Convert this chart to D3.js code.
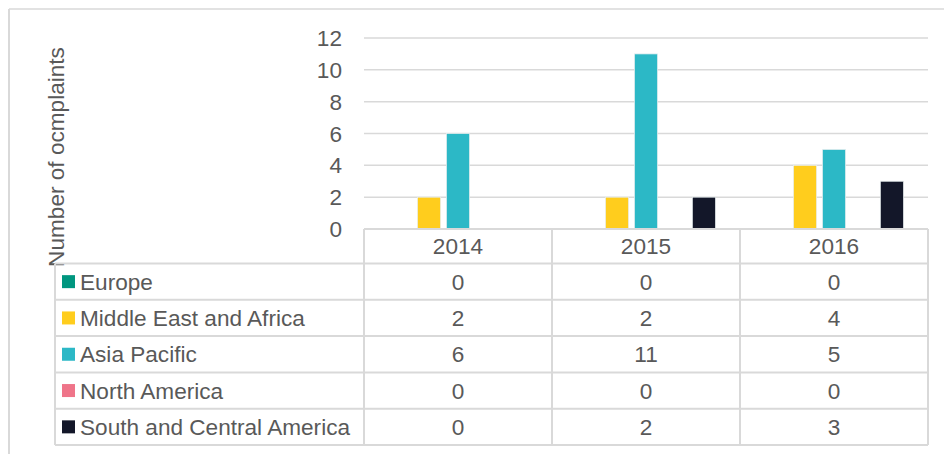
<!DOCTYPE html>
<html>
<head>
<meta charset="utf-8">
<script src="https://cdn.jsdelivr.net/npm/d3@7"></script>
<style>
  body { margin: 0; background: #fff; }
  svg { display: block; font-family: "Liberation Sans", Arial, sans-serif; }
</style>
</head>
<body>
<script>
// data
const years = ['2014', '2015', '2016'];
const regions = ['Europe', 'Middle East and Africa', 'Asia Pacific', 'North America', 'South and Central America'];
const colors = ['#00967f', '#ffcd1d', '#2cb8c6', '#ef7489', '#131729'];
const europe = [0, 0, 0];
const mea = [2, 2, 4];
const asiaPacific = [6, 11, 5];
const northAmerica = [0, 0, 0];
const southCentral = [0, 2, 3];
const yTicks = [0, 2, 4, 6, 8, 10, 12];

const series = [europe, mea, asiaPacific, northAmerica, southCentral];

let width = 944,
    height = 454,
    plotLeft = 364,
    plotRight = 928,
    plotTop = 38,
    plotBottom = 229,
    rowH = 36.3,
    headH = 34.5,
    tableLeft = 55,
    grid = '#d9d9d9',
    textCol = '#595959',
    fontSize = 22.6;

let svg = d3.select('body').append('svg').attr('width', width).attr('height', height);

// outer frame
svg.append('line').attr('x1', 9).attr('x2', 9).attr('y1', 9).attr('y2', height)
    .style('stroke', grid).style('stroke-width', '2px');
svg.append('line').attr('x1', 9).attr('x2', width).attr('y1', 9).attr('y2', 9)
    .style('stroke', grid).style('stroke-width', '1.5px');

let xScale = d3.scaleBand(years, [plotLeft, plotRight]),
    x1 = d3.scaleBand(regions, [24.5, xScale.bandwidth() - 24.5]).paddingInner(0.2),
    yScale = d3.scaleLinear([0, 12], [plotBottom, plotTop]);

// gridlines
svg.append('g').selectAll('line')
    .data(yTicks.filter(d => d > 0))
    .join('line')
    .attr('x1', plotLeft).attr('x2', plotRight)
    .attr('y1', d => yScale(d)).attr('y2', d => yScale(d))
    .style('stroke', grid).style('stroke-width', '1.5px');

// y axis labels
svg.append('g').selectAll('text')
    .data(yTicks)
    .join('text')
    .attr('x', 342)
    .attr('y', d => yScale(d))
    .attr('dy', '0.36em')
    .attr('text-anchor', 'end')
    .style('font-size', fontSize + 'px')
    .style('fill', textCol)
    .text(d => d);

// y axis title
svg.append('text')
    .attr('transform', 'translate(64,157) rotate(-90)')
    .attr('text-anchor', 'middle')
    .style('font-size', fontSize + 'px')
    .style('fill', textCol)
    .text('Number of ocmplaints');

// bars
let bars = [];
series.forEach((vals, i) => vals.forEach((v, j) => bars.push({region: regions[i], color: colors[i], year: years[j], value: v})));

svg.append('g').selectAll('rect')
    .data(bars.filter(d => d.value > 0))
    .join('rect')
    .attr('x', d => xScale(d.year) + x1(d.region))
    .attr('width', x1.bandwidth())
    .attr('y', d => yScale(d.value))
    .attr('height', d => yScale(0) - yScale(d.value))
    .style('fill', d => d.color)
    .style('stroke', '#e8eef0')
    .style('stroke-width', '0.75px');

// data table
let table = svg.append('g');
let rowY = i => plotBottom + headH + i * rowH;
let tableBottom = rowY(regions.length);

// horizontal lines
table.append('line').attr('x1', plotLeft).attr('x2', plotRight).attr('y1', plotBottom).attr('y2', plotBottom)
    .style('stroke', grid).style('stroke-width', '2px');
table.selectAll('line.h')
    .data(d3.range(regions.length + 1))
    .join('line')
    .attr('class', 'h')
    .attr('x1', tableLeft).attr('x2', plotRight)
    .attr('y1', d => rowY(d)).attr('y2', d => rowY(d))
    .style('stroke', grid).style('stroke-width', '2px');

// vertical lines
table.append('line').attr('x1', tableLeft).attr('x2', tableLeft).attr('y1', rowY(0)).attr('y2', tableBottom)
    .style('stroke', grid).style('stroke-width', '2px');
table.selectAll('line.v')
    .data(years.map(y => xScale(y)).concat([plotRight]))
    .join('line')
    .attr('class', 'v')
    .attr('x1', d => d).attr('x2', d => d)
    .attr('y1', plotBottom).attr('y2', tableBottom)
    .style('stroke', grid).style('stroke-width', '2px');

// year headers
table.selectAll('text.year')
    .data(years)
    .join('text')
    .attr('class', 'year')
    .attr('x', d => xScale(d) + xScale.bandwidth() / 2)
    .attr('y', plotBottom + headH / 2)
    .attr('dy', '0.36em')
    .attr('text-anchor', 'middle')
    .style('font-size', fontSize + 'px')
    .style('fill', textCol)
    .text(d => d);

// legend rows
let rows = table.selectAll('g.row')
    .data(regions)
    .join('g')
    .attr('class', 'row')
    .attr('transform', (d, i) => `translate(0,${rowY(i) + rowH / 2})`);

rows.append('rect')
    .attr('x', 62).attr('y', -6.5)
    .attr('width', 13).attr('height', 13)
    .style('fill', (d, i) => colors[i]);

rows.append('text')
    .attr('x', 80)
    .attr('dy', '0.36em')
    .style('font-size', fontSize + 'px')
    .style('fill', textCol)
    .text(d => d);

rows.each(function(d, i) {
    d3.select(this).selectAll('text.val')
        .data(series[i])
        .join('text')
        .attr('class', 'val')
        .attr('x', (v, j) => xScale(years[j]) + xScale.bandwidth() / 2)
        .attr('dy', '0.36em')
        .attr('text-anchor', 'middle')
        .style('font-size', fontSize + 'px')
        .style('fill', textCol)
        .text(v => v);
});
</script>
</body>
</html>
